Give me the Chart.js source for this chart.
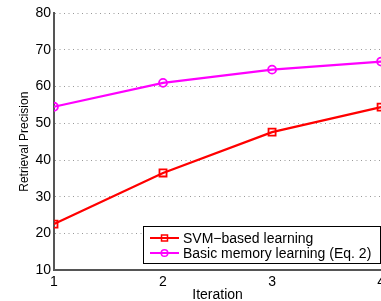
<!DOCTYPE html>
<html>
<head>
<meta charset="utf-8">
<script src="https://cdn.jsdelivr.net/npm/chart.js@4"></script>
<style>
  html, body { margin: 0; padding: 0; background: #fff; overflow: hidden; }
  #wrap { width: 388px; height: 301px; }
</style>
</head>
<body>
<div id="wrap"><canvas id="myChart"></canvas></div>
<script>
'use strict';

const iterations = [1, 2, 3, 4];
const svmValues = [22.6, 36.5, 47.6, 54.4];
const memoryValues = [54.5, 61.0, 64.6, 66.8];
const yTicks = [10, 20, 30, 40, 50, 60, 70, 80];

const FONT = 'Liberation Sans, Arial, sans-serif';

// matlab style legend box in the lower right corner
const boxLegend = {
  id: 'boxLegend',
  afterDraw(chart) {
    const ctx = chart.ctx;
    const x0 = 143, y0 = 226, w = 237, h = 37;
    ctx.save();
    ctx.fillStyle = '#fff';
    ctx.fillRect(x0, y0, w, h);
    ctx.strokeStyle = '#000';
    ctx.lineWidth = 1;
    ctx.strokeRect(x0 + 0.5, y0 + 0.5, w, h);
    chart.data.datasets.forEach((ds, i) => {
      const cy = y0 + 12 + i * 15;
      ctx.strokeStyle = ds.borderColor;
      ctx.lineWidth = 2;
      ctx.beginPath();
      ctx.moveTo(150, cy);
      ctx.lineTo(179, cy);
      ctx.stroke();
      ctx.lineWidth = 1.5;
      ctx.beginPath();
      if (ds.pointStyle === 'rect') {
        ctx.rect(161.5, cy - 3, 6, 6);
      } else {
        ctx.arc(164.5, cy, 3.3, 0, Math.PI * 2);
      }
      ctx.stroke();
      ctx.fillStyle = '#000';
      ctx.font = '14px ' + FONT;
      ctx.textBaseline = 'middle';
      ctx.fillText(ds.label, 183, cy + 1);
    });
    ctx.restore();
  }
};

new Chart(document.querySelector('#myChart'), {
  type: 'line',
  data: {
    datasets: [
      {
        label: 'SVM\u2212based learning',
        data: iterations.map((it, i) => ({x: it, y: svmValues[i]})),
        borderColor: '#ff0000',
        backgroundColor: 'rgba(0,0,0,0)',
        borderWidth: 2.2,
        pointStyle: 'rect',
        pointRadius: 5,
        pointBorderWidth: 1.8,
      },
      {
        label: 'Basic memory learning (Eq. 2)',
        data: iterations.map((it, i) => ({x: it, y: memoryValues[i]})),
        borderColor: '#ff00ff',
        backgroundColor: 'rgba(0,0,0,0)',
        borderWidth: 2.2,
        pointStyle: 'circle',
        pointRadius: 4,
        pointBorderWidth: 1.8,
      },
    ],
  },
  options: {
    responsive: true,
    maintainAspectRatio: false,
    animation: false,
    layout: {padding: {top: 13, right: 0, left: 17, bottom: 0}},
    plugins: {
      legend: {display: false},
      tooltip: {enabled: false},
    },
    scales: {
      x: {
        type: 'linear',
        min: 1,
        max: 4,
        afterBuildTicks: (axis) => { axis.ticks = iterations.map(v => ({value: v})); },
        grid: {display: false, drawTicks: false},
        border: {display: true, color: '#555', width: 2},
        ticks: {color: '#000', font: {family: FONT, size: 14}, padding: 3},
        title: {display: true, text: 'Iteration', color: '#000', font: {family: FONT, size: 14}, padding: {top: -6, bottom: -3}},
      },
      y: {
        min: 10,
        max: 80,
        afterBuildTicks: (axis) => { axis.ticks = yTicks.map(v => ({value: v})); },
        grid: {
          color: '#999',
          lineWidth: 1,
          drawTicks: false,
        },
        border: {display: true, color: '#555', width: 2, dash: [1, 3.5]},
        ticks: {color: '#000', font: {family: FONT, size: 14}, padding: 3},
        title: {display: true, text: 'Retrieval Precision', color: '#000', font: {family: FONT, size: 12}, padding: {top: 0, bottom: 1}},
      },
    },
  },
  plugins: [boxLegend],
});
</script>
</body>
</html>
